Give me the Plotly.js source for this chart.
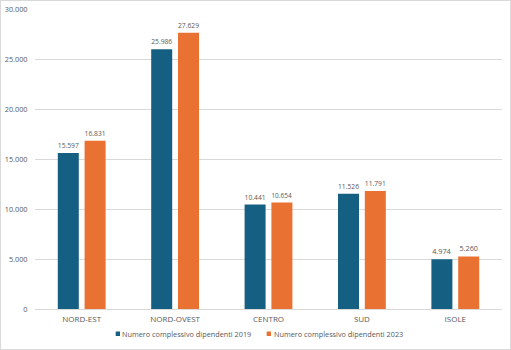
<!DOCTYPE html>
<html><head><meta charset="utf-8">
<script src="https://cdn.plot.ly/plotly-3.0.1.min.js"></script>
<style>
html,body{margin:0;padding:0;background:#fff;}
#wrap{width:511px;height:350px;box-sizing:border-box;border:1px solid #d9d9d9;}
#chart{width:509px;height:348px;}
</style>
</head><body>
<div id="wrap"><div id="chart"></div></div>
<script>
const categories = ["NORD-EST","NORD-OVEST","CENTRO","SUD","ISOLE"];
const values2019 = [15597, 25986, 10441, 11526, 4974];
const values2023 = [16831, 27629, 10654, 11791, 5260];
const name2019 = "Numero complessivo dipendenti 2019";
const name2023 = "Numero complessivo dipendenti 2023";
const tickVals = [0,5000,10000,15000,20000,25000,30000];

const fam = "Open Sans, Noto Sans, sans-serif";
const grey = "#595959";
const fs = 7.3;
const blue = "#156082", orange = "#E97132";

const traces = [
  {type:"bar", x:categories, y:values2019, name:name2019, marker:{color:blue},
   texttemplate:"%{y:,.0f}", textposition:"outside", cliponaxis:false,
   textfont:{family:fam, size:fs, color:grey}},
  {type:"bar", x:categories, y:values2023, name:name2023, marker:{color:orange},
   texttemplate:"%{y:,.0f}", textposition:"outside", cliponaxis:false,
   textfont:{family:fam, size:fs, color:grey}}
];

// custom legend (small squares + text) below the plot
const legY0 = -0.075, legY1 = -0.09;
const shapes = [
  {type:"rect", xref:"paper", yref:"paper", x0:0.1728, x1:0.182, y0:legY0, y1:legY1,
   fillcolor:blue, line:{width:0}},
  {type:"rect", xref:"paper", yref:"paper", x0:0.4961, x1:0.5054, y0:legY0, y1:legY1,
   fillcolor:orange, line:{width:0}}
];
const annotations = [
  {xref:"paper", yref:"paper", x:0.1820, y:-0.0825, xanchor:"left", yanchor:"middle",
   text:name2019, showarrow:false, font:{family:fam, size:fs, color:grey}},
  {xref:"paper", yref:"paper", x:0.5074, y:-0.0825, xanchor:"left", yanchor:"middle",
   text:name2023, showarrow:false, font:{family:fam, size:fs, color:grey}}
];

const layout = {
  width:509, height:348,
  margin:{l:34, r:8, t:8, b:40},
  separators:",.",
  font:{family:fam, size:fs, color:grey},
  paper_bgcolor:"#fff", plot_bgcolor:"#fff",
  barmode:"group", bargap:0.426, bargroupgap:0.216,
  showlegend:false,
  shapes:shapes, annotations:annotations,
  xaxis:{type:"category", showgrid:false, showline:true, linecolor:"#d9d9d9", linewidth:1,
         ticks:"outside", ticklen:2, tickcolor:"rgba(0,0,0,0)",
         tickfont:{family:fam, size:8, color:grey}, fixedrange:true},
  yaxis:{range:[0,30000], tickvals:tickVals, tickformat:",d", showgrid:true, gridcolor:"#d9d9d9",
         gridwidth:1, zeroline:false, showline:false, ticks:"outside", ticklen:5,
         tickcolor:"rgba(0,0,0,0)", tickfont:{family:fam, size:fs, color:grey}, fixedrange:true}
};

Plotly.newPlot("chart", traces, layout, {displayModeBar:false, staticPlot:true});
</script>
</body></html>
